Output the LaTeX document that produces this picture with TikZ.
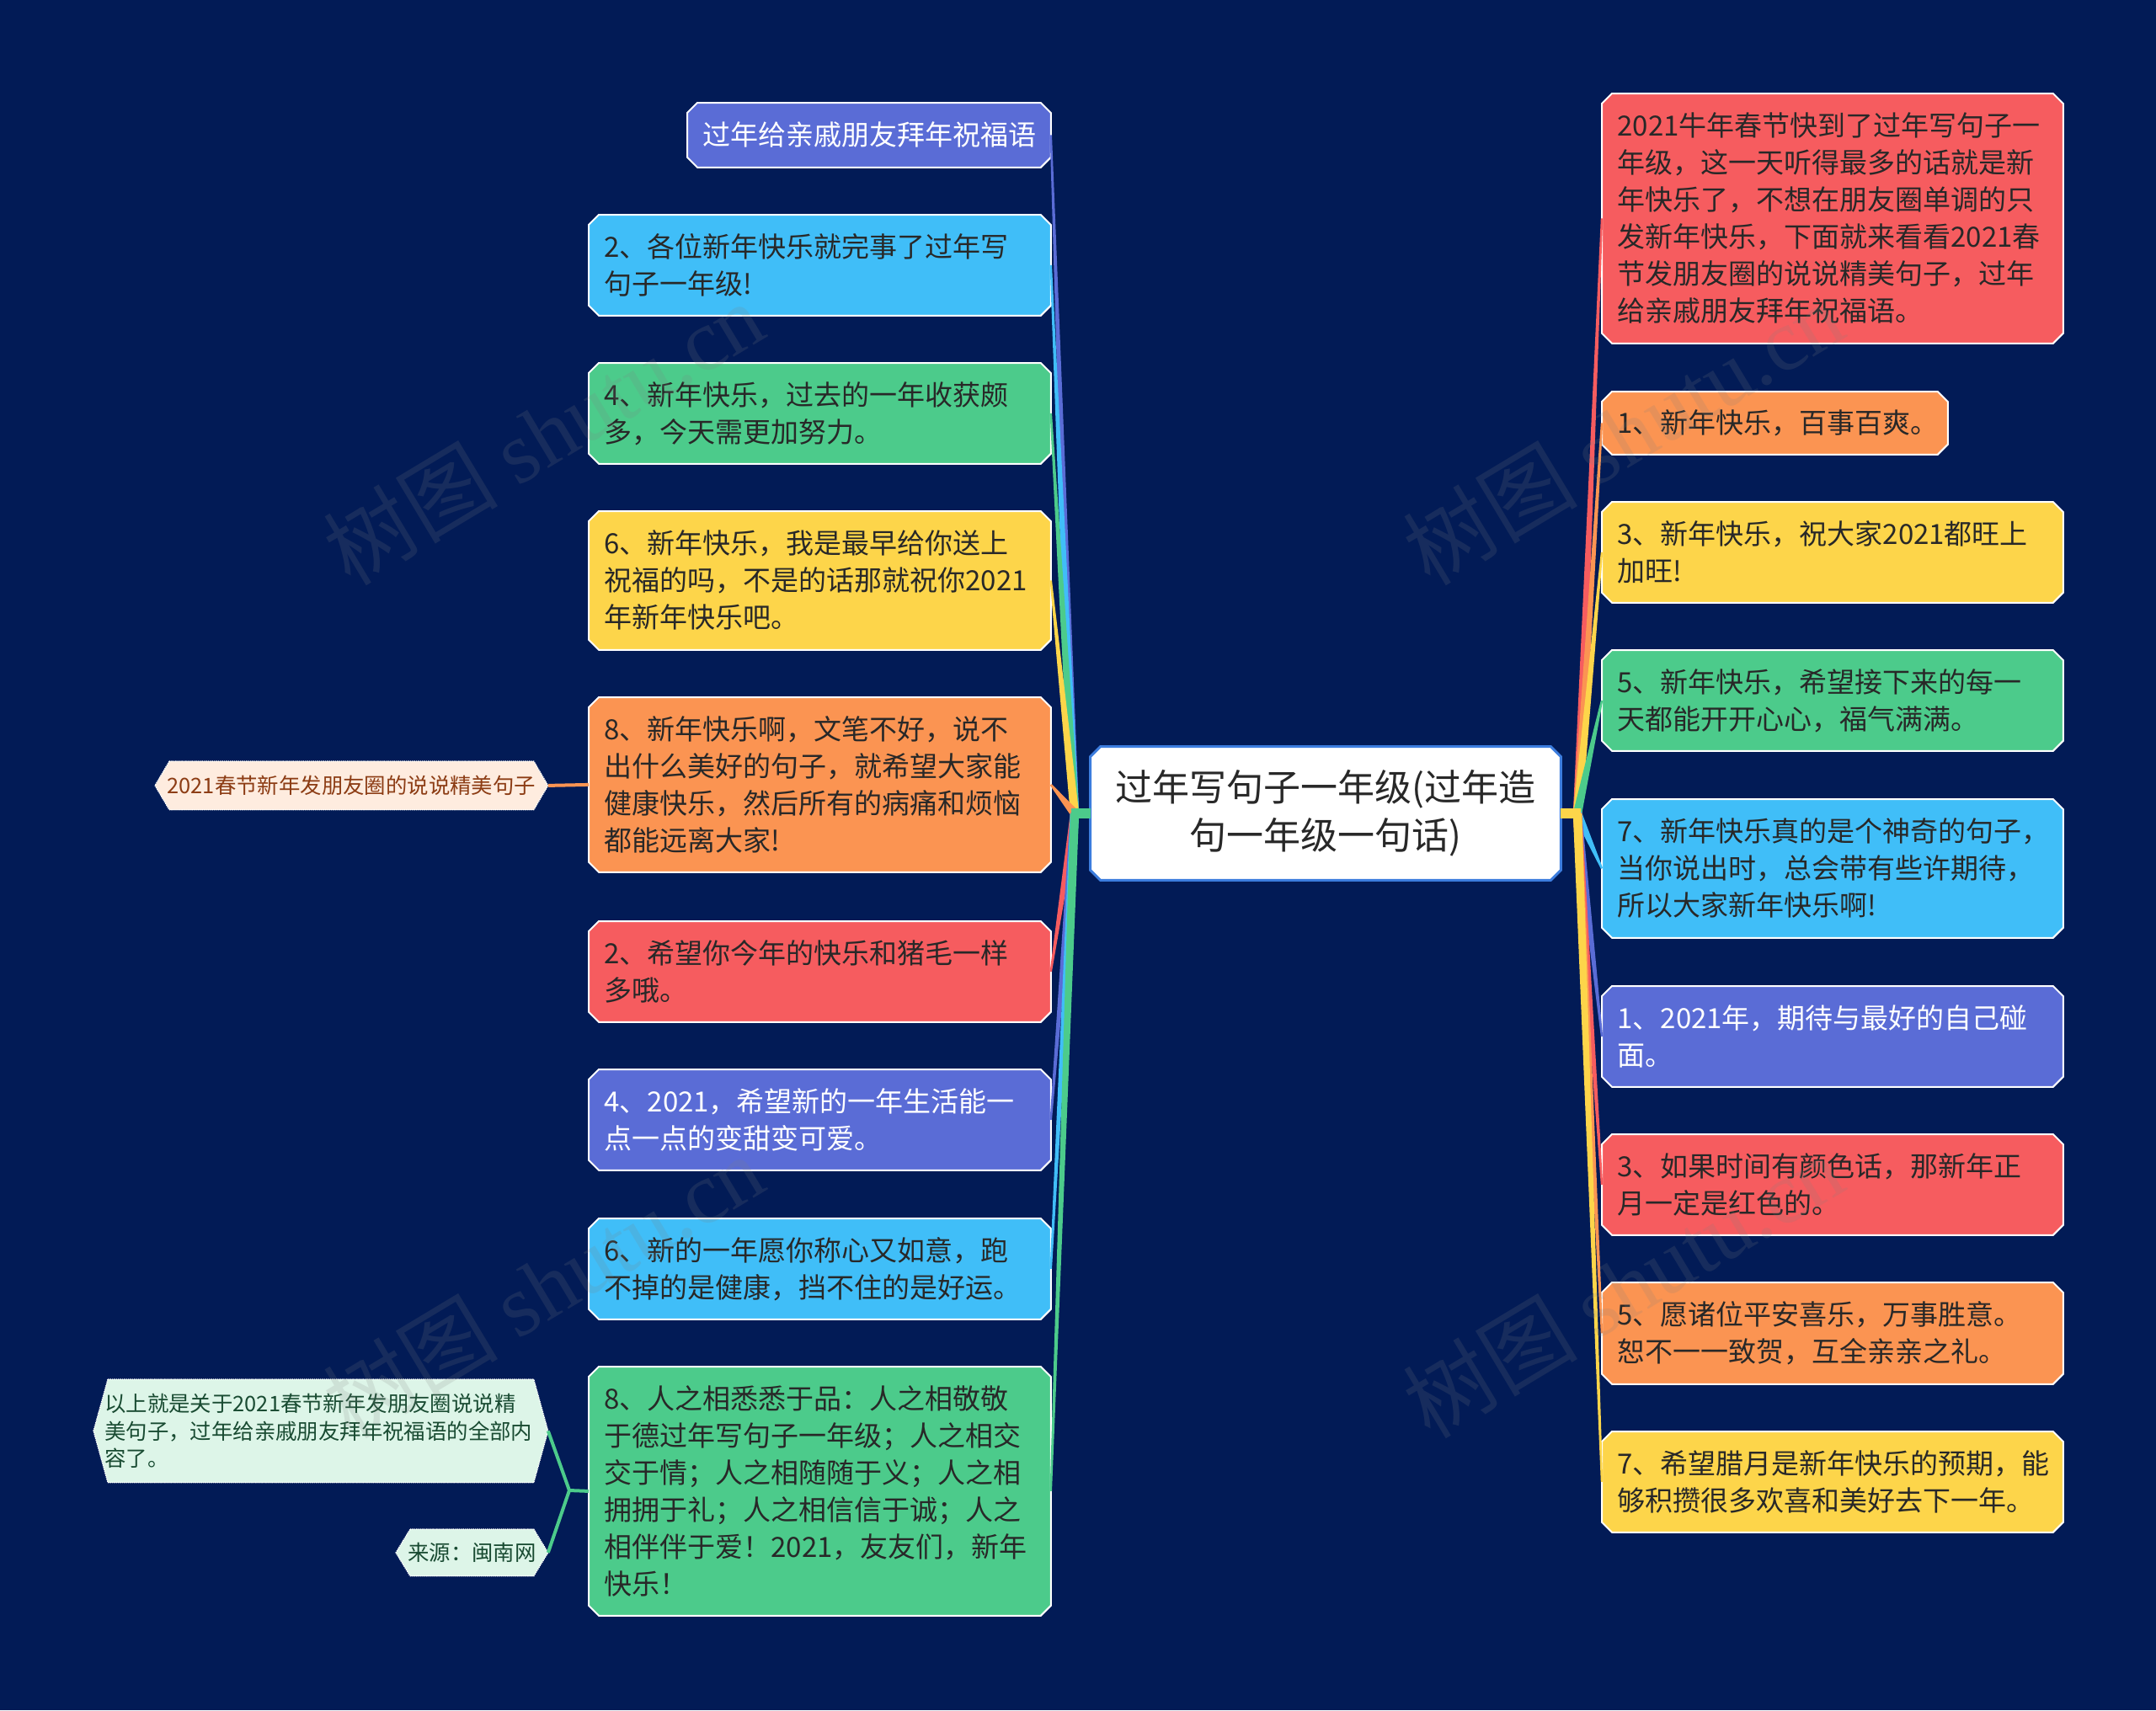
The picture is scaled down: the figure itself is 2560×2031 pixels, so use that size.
\documentclass[tikz,border=0pt]{standalone}
\usepackage{fontspec}
\setmainfont{Noto Sans CJK SC}
\newfontfamily\wmlatin{Liberation Serif}
\usetikzlibrary{calc}
\pgfdeclarelayer{bgl}
\pgfdeclarelayer{boxl}
\pgfsetlayers{bgl,boxl,main}
\definecolor{bgc}{RGB}{2,27,86}
\definecolor{cpur}{RGB}{90,108,214}
\definecolor{ccya}{RGB}{64,190,248}
\definecolor{cgrn}{RGB}{76,203,139}
\definecolor{cyel}{RGB}{253,213,74}
\definecolor{cora}{RGB}{251,148,82}
\definecolor{cred}{RGB}{246,92,95}
\definecolor{ctxt}{RGB}{40,40,40}
\definecolor{cblu}{RGB}{60,125,222}
\definecolor{cpeach}{RGB}{254,236,223}
\definecolor{cbrown}{RGB}{140,60,20}
\definecolor{cmint}{RGB}{221,245,232}
\definecolor{cdkgrn}{RGB}{25,75,50}
\newcommand\chfill[3]{\filldraw[#3] ([xshift=#2]#1.north west) -- ([xshift=-#2]#1.north east) -- ([yshift=-#2]#1.north east) -- ([yshift=#2]#1.south east) -- ([xshift=-#2]#1.south east) -- ([xshift=#2]#1.south west) -- ([yshift=#2]#1.south west) -- ([yshift=-#2]#1.north west) -- cycle;}
\newcommand\hexfill[3]{\filldraw[#3] ([xshift=#2]#1.north west) -- ([xshift=-#2]#1.north east) -- (#1.east) -- ([xshift=-#2]#1.south east) -- ([xshift=#2]#1.south west) -- (#1.west) -- cycle;}
\newcommand\cbox[8]{%
  \pgfmathsetmacro\cbw{#4/2}\pgfmathsetmacro\cbh{#5/2}\pgfmathsetmacro\ctw{#4/2-18}%
  \node[boxtext, text=#7, minimum width=\cbw pt, minimum height=\cbh pt, text width=\ctw pt] (#1) at (#2,#3) {#8};
  \begin{pgfonlayer}{boxl}
    \chfill{#1}{6pt}{fill=#6, draw=white, line width=1pt}
  \end{pgfonlayer}}
\newcommand\hexbox[9]{%
  \pgfmathsetmacro\hbw{#4/2}\pgfmathsetmacro\hbh{#5/2}%
  \node[smalltext, text=#7, minimum width=\hbw pt, minimum height=\hbh pt, #8] (#1) at (#2,#3) {#9};
  \begin{pgfonlayer}{boxl}
    \hexfill{#1}{8.5pt}{fill=#6, draw=white, line width=0.6pt, dash pattern=on 0.7pt off 0.5pt}
  \end{pgfonlayer}}
\newcommand\conn[4]{\fill[#1] ($(#2)!#4!90:(#3)$) -- ($(#3)!0.6pt!-90:(#2)$) -- ($(#3)!0.6pt!90:(#2)$) -- ($(#2)!#4!-90:(#3)$) -- cycle;}
\begin{document}
\begin{tikzpicture}[x=0.5pt,y=-0.5pt,
  boxtext/.style={rectangle, anchor=north west, inner xsep=9pt, inner ysep=0pt, align=left, font=\fontsize{16.5}{22}\selectfont},
  smalltext/.style={rectangle, anchor=north west, inner xsep=6.5pt, inner ysep=0pt, align=center, font=\fontsize{12.7}{16.3}\selectfont},
  wm/.style={rotate=31, opacity=0.17, text=gray, font=\fontsize{52}{60}\selectfont}]
\useasboundingbox (0,0) rectangle (2560,2031);
\begin{pgfonlayer}{bgl}
  \fill[bgc] (0,0) rectangle (2560,2031);
\end{pgfonlayer}

% central topic
\node[rectangle, inner sep=0pt, minimum width=279pt, minimum height=79pt, align=center, text=ctxt, font=\fontsize{22}{28.5}\selectfont] (C) at (1574,966) {过年写句子一年级(过年造\\句一年级一句话)};
\begin{pgfonlayer}{boxl}
  \chfill{C}{6pt}{fill=white, draw=cblu, line width=1.5pt}
\end{pgfonlayer}

% left branch
\cbox{L0}{816}{122}{431}{76}{cpur}{white}{过年给亲戚朋友拜年祝福语}
\cbox{L1}{699}{255}{548}{119}{ccya}{ctxt}{2、各位新年快乐就完事了过年写\\句子一年级!}
\cbox{L2}{699}{431}{548}{119}{cgrn}{ctxt}{4、新年快乐，过去的一年收获颇\\多，今天需更加努力。}
\cbox{L3}{699}{607}{548}{164}{cyel}{ctxt}{6、新年快乐，我是最早给你送上\\祝福的吗，不是的话那就祝你2021\\年新年快乐吧。}
\cbox{L4}{699}{828}{548}{207}{cora}{ctxt}{8、新年快乐啊，文笔不好，说不\\出什么美好的句子，就希望大家能\\健康快乐，然后所有的病痛和烦恼\\都能远离大家!}
\cbox{L5}{699}{1094}{548}{119}{cred}{ctxt}{2、希望你今年的快乐和猪毛一样\\多哦。}
\cbox{L6}{699}{1270}{548}{119}{cpur}{white}{4、2021，希望新的一年生活能一\\点一点的变甜变可爱。}
\cbox{L7}{699}{1447}{548}{119}{ccya}{ctxt}{6、新的一年愿你称心又如意，跑\\不掉的是健康，挡不住的是好运。}
\cbox{L8}{699}{1623}{548}{295}{cgrn}{ctxt}{8、人之相悉悉于品：人之相敬敬\\于德过年写句子一年级；人之相交\\交于情；人之相随随于义；人之相\\拥拥于礼；人之相信信于诚；人之\\相伴伴于爱！2021，友友们，新年\\快乐！}

% right branch
\cbox{R1}{1902}{111}{547}{296}{cred}{ctxt}{2021牛年春节快到了过年写句子一\\年级，这一天听得最多的话就是新\\年快乐了，不想在朋友圈单调的只\\发新年快乐，下面就来看看2021春\\节发朋友圈的说说精美句子，过年\\给亲戚朋友拜年祝福语。}
\cbox{R2}{1902}{465}{410}{74}{cora}{ctxt}{1、新年快乐，百事百爽。}
\cbox{R3}{1902}{596}{547}{119}{cyel}{ctxt}{3、新年快乐，祝大家2021都旺上\\加旺!}
\cbox{R4}{1902}{772}{547}{119}{cgrn}{ctxt}{5、新年快乐，希望接下来的每一\\天都能开开心心，福气满满。}
\cbox{R5}{1902}{949}{547}{164}{ccya}{ctxt}{7、新年快乐真的是个神奇的句子，\\当你说出时，总会带有些许期待，\\所以大家新年快乐啊!}
\cbox{R6}{1902}{1171}{547}{119}{cpur}{white}{1、2021年，期待与最好的自己碰\\面。}
\cbox{R7}{1902}{1347}{547}{119}{cred}{ctxt}{3、如果时间有颜色话，那新年正\\月一定是红色的。}
\cbox{R8}{1902}{1523}{547}{120}{cora}{ctxt}{5、愿诸位平安喜乐，万事胜意。\\恕不一一致贺，互全亲亲之礼。}
\cbox{R9}{1902}{1700}{547}{119}{cyel}{ctxt}{7、希望腊月是新年快乐的预期，能\\够积攒很多欢喜和美好去下一年。}

% small side notes
\hexbox{S1}{184}{904}{466}{57}{cpeach}{cbrown}{}{2021春节新年发朋友圈的说说精美句子}
\hexbox{S2}{111}{1638}{539}{122}{cmint}{cdkgrn}{align=left, text width=256.5pt}{以上就是关于2021春节新年发朋友圈说说精\\美句子，过年给亲戚朋友拜年祝福语的全部内\\容了。}
\hexbox{S3}{470}{1816}{180}{55}{cmint}{cdkgrn}{}{来源：闽南网}

% hubs
\coordinate (lhub) at (1276,966);
\coordinate (rhub) at (1873,966);

\begin{pgfonlayer}{boxl}
% connectors left
\conn{cpur}{lhub}{L0.east}{2.6pt}
\conn{ccya}{lhub}{L1.east}{2.6pt}
\conn{cgrn}{lhub}{L2.east}{2.6pt}
\conn{cyel}{lhub}{L3.east}{2.6pt}
\conn{cora}{lhub}{L4.east}{2.6pt}
\conn{cred}{lhub}{L5.east}{2.6pt}
\conn{cpur}{lhub}{L6.east}{2.6pt}
\conn{ccya}{lhub}{L7.east}{2.6pt}
\conn{cgrn}{lhub}{L8.east}{2.6pt}
\draw[cgrn, line width=6pt] (C.west) -- ([xshift=-2pt]lhub);
% connectors right
\conn{cred}{rhub}{R1.west}{2.6pt}
\conn{cora}{rhub}{R2.west}{2.6pt}
\conn{cyel}{rhub}{R3.west}{2.6pt}
\conn{cgrn}{rhub}{R4.west}{2.6pt}
\conn{ccya}{rhub}{R5.west}{2.6pt}
\conn{cpur}{rhub}{R6.west}{2.6pt}
\conn{cred}{rhub}{R7.west}{2.6pt}
\conn{cora}{rhub}{R8.west}{2.6pt}
\conn{cyel}{rhub}{R9.west}{2.6pt}
\draw[cyel, line width=6pt] (C.east) -- ([xshift=2pt]rhub);
% side connectors
\draw[cora, line width=2pt] (L4.west) -- (S1.east);
\coordinate (bj) at (676,1770);
\draw[cgrn, line width=2pt] (L8.west) -- (bj) -- (S2.east);
\draw[cgrn, line width=2pt] (bj) -- (S3.east);
\end{pgfonlayer}

% watermarks
\node[wm] (wm1) at (645,514) {树图 {\wmlatin shutu.cn}};
\node[wm] (wm2) at (1927,514) {树图 {\wmlatin shutu.cn}};
\node[wm] (wm3) at (645,1527) {树图 {\wmlatin shutu.cn}};
\node[wm] (wm4) at (1927,1527) {树图 {\wmlatin shutu.cn}};
\end{tikzpicture}
\end{document}
